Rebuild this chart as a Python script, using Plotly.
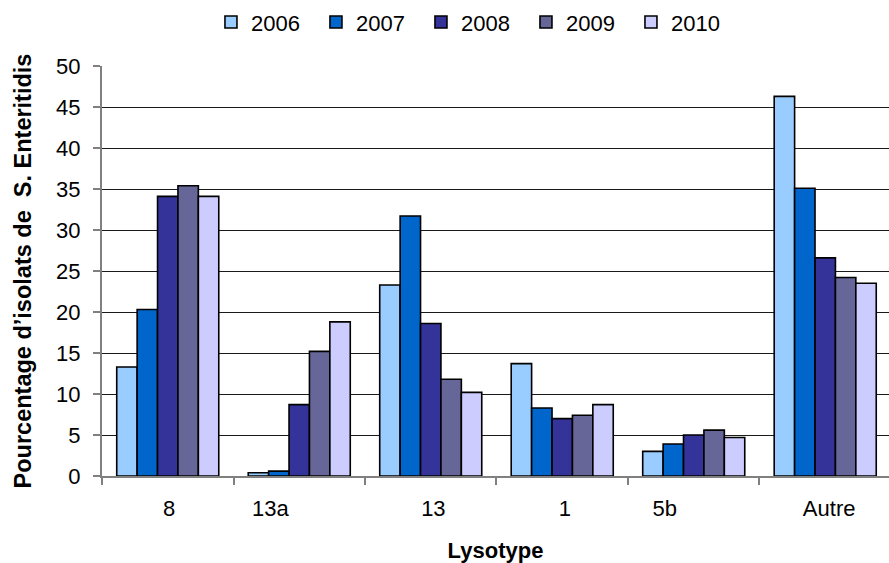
import plotly.graph_objects as go

# Lysotype categories and yearly percentages of S. Enteritidis isolates
lysotypes = ["8", "13a", "13", "1", "5b", "Autre"]
years = ["2006", "2007", "2008", "2009", "2010"]
pct_2006 = [13.3, 0.4, 23.3, 13.7, 3.0, 46.3]
pct_2007 = [20.3, 0.6, 31.7, 8.3, 3.9, 35.1]
pct_2008 = [34.1, 8.7, 18.6, 7.0, 5.0, 26.6]
pct_2009 = [35.4, 15.2, 11.8, 7.4, 5.6, 24.2]
pct_2010 = [34.1, 18.8, 10.2, 8.7, 4.7, 23.5]
series = [pct_2006, pct_2007, pct_2008, pct_2009, pct_2010]
colors = ["#99CCFF", "#0066CC", "#333399", "#666699", "#CCCCFF"]

# horizontal nudge of each category label relative to its group centre
label_nudge = [0.01, -0.22, 0.02, 0.02, -0.22, 0.03]

FONT = "Liberation Sans, Arial, sans-serif"
positions = list(range(len(lysotypes)))

fig = go.Figure()
for year, vals, col in zip(years, series, colors):
    fig.add_trace(go.Bar(
        x=positions, y=vals, name=year,
        marker=dict(color=col, line=dict(color="#000000", width=1.6)),
    ))

fig.update_layout(
    width=889, height=563,
    margin=dict(l=102, r=0, t=66, b=87),
    paper_bgcolor="white", plot_bgcolor="white",
    barmode="group", bargap=0.224, bargroupgap=0,
    font=dict(family=FONT, size=22, color="#000000"),
    legend=dict(
        orientation="h", x=0.472, xanchor="center",
        y=0.998, yanchor="top", yref="container",
        entrywidth=60, font=dict(size=22),
    ),
    showlegend=True,
)

fig.update_xaxes(
    range=[-0.5, 5.485],
    tickmode="array",
    tickvals=[p + n for p, n in zip(positions, label_nudge)],
    ticktext=lysotypes,
    ticks="",
    ticklabelstandoff=12,
    showgrid=False, zeroline=False,
    showline=True, linecolor="#808080", linewidth=2,
    minor=dict(
        tickmode="array",
        tickvals=[p - 0.5 for p in positions] + [len(positions) - 0.5],
        ticks="outside", ticklen=7, tickcolor="#808080", tickwidth=1.5,
        showgrid=False,
    ),
    title=dict(text="<b>Lysotype</b>", font=dict(size=22), standoff=23),
)

fig.update_yaxes(
    range=[0, 50], dtick=5, tick0=0,
    ticks="outside", ticklen=7, tickcolor="#808080", tickwidth=1.5,
    ticklabelstandoff=8,
    showgrid=True, gridcolor="#1a1a1a", gridwidth=1,
    zeroline=False,
    showline=True, linecolor="#808080", linewidth=2,
    title=dict(text="<b>Pourcentage d’isolats de\u00a0\u00a0S. Enteritidis</b>",
               font=dict(size=23.5), standoff=18),
)

fig.write_html("out.html")
